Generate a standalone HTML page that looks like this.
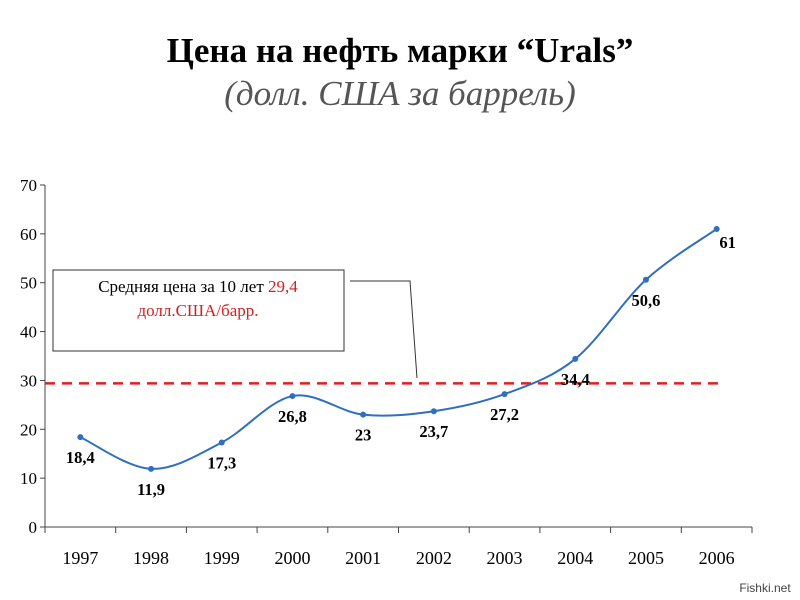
<!DOCTYPE html>
<html><head><meta charset="utf-8"><style>
body{margin:0;background:#fff;width:800px;height:600px;overflow:hidden}
svg{display:block}
</style></head><body>
<svg id="c" width="800" height="600" xmlns="http://www.w3.org/2000/svg">
<text x="400" y="62" text-anchor="middle" font-family="Liberation Serif, serif" font-weight="bold" font-size="35" fill="#000">Цена на нефть марки “Urals”</text>
<text x="400" y="105" text-anchor="middle" font-family="Liberation Serif, serif" font-style="italic" font-size="35" fill="#555">(долл. США за баррель)</text>
<g id="axes"></g>
<g id="marks"></g>
<rect x="53" y="270" width="291" height="81" fill="#fff" stroke="#333" stroke-width="1"/>
<text x="198" y="292" text-anchor="middle" font-family="Liberation Serif, serif" font-size="17"><tspan fill="#000">Средняя цена за 10 лет </tspan><tspan fill="#d42020">29,4</tspan></text>
<text x="198" y="316" text-anchor="middle" font-family="Liberation Serif, serif" font-size="17" fill="#d42020">долл.США/барр.</text>
<polyline points="350,281 410,281 417,378" fill="none" stroke="#333" stroke-width="1"/>
<text x="765" y="592" text-anchor="middle" font-family="Liberation Sans, sans-serif" font-size="12" fill="#444">Fishki.net</text>
</svg>
<script>
const categories=["1997","1998","1999","2000","2001","2002","2003","2004","2005","2006"];
const prices=[18.4,11.9,17.3,26.8,23,23.7,27.2,34.4,50.6,61];
const priceLabels=["18,4","11,9","17,3","26,8","23","23,7","27,2","34,4","50,6","61"];
const average=[29.4];
const yTicks=[0,10,20,30,40,50,60,70];
const NS="http://www.w3.org/2000/svg";
const x0=45,x1=752,y0=527,y70=185;
const bw=(x1-x0)/categories.length;
const X=i=>x0+bw*(i+0.5);
const Y=v=>y0-(v/70)*(y0-y70);
function mk(t,a,p){const e=document.createElementNS(NS,t);for(const k in a)e.setAttribute(k,a[k]);p.appendChild(e);return e;}
const ax=document.getElementById('axes'),mg=document.getElementById('marks');
let l=mk('line',{x1:x0,y1:Y(70),x2:x0,y2:y0,stroke:'#444'},ax);

l=mk('line',{x1:x0,y1:y0,x2:x1,y2:y0,stroke:'#444'},ax);

yTicks.forEach(v=>{
 mk('line',{x1:x0-5,y1:Y(v),x2:x0,y2:Y(v),stroke:'#444'},ax);
 const t=mk('text',{x:x0-8,y:Y(v)+6,'text-anchor':'end','font-family':'Liberation Serif, serif','font-size':17,fill:'#000'},ax);
 t.textContent=v;
 
 
});
for(let i=0;i<=categories.length;i++)mk('line',{x1:x0+bw*i,y1:y0,x2:x0+bw*i,y2:y0+6,stroke:'#444'},ax);
categories.forEach((c,i)=>{
 const t=mk('text',{x:X(i),y:y0+37,'text-anchor':'middle','font-family':'Liberation Serif, serif','font-size':18,fill:'#000'},ax);
 t.textContent=c;
 
 
});
const avg=mk('line',{x1:x0,y1:Y(average[0]),x2:x1-30,y2:Y(average[0]),stroke:'#e02020','stroke-width':2.5,'stroke-dasharray':'10,7'},mg);


const pts=prices.map((v,i)=>[X(i),Y(v)]);
let d=`M${pts[0][0]},${pts[0][1]}`;
for(let i=0;i<pts.length-1;i++){
 const p0=pts[Math.max(0,i-1)],p1=pts[i],p2=pts[i+1],p3=pts[Math.min(pts.length-1,i+2)];
 const c1=[p1[0]+(p2[0]-p0[0])/6,p1[1]+(p2[1]-p0[1])/6],c2=[p2[0]-(p3[0]-p1[0])/6,p2[1]-(p3[1]-p1[1])/6];
 d+=` C${c1[0]},${c1[1]} ${c2[0]},${c2[1]} ${p2[0]},${p2[1]}`;
}
const line=mk('path',{d:d,fill:'none',stroke:'#2f6fc0','stroke-width':2},mg);


pts.forEach((p,i)=>{
 const c=mk('circle',{cx:p[0],cy:p[1],r:3,fill:'#2f6fc0'},mg);
 
 
 const last=i===pts.length-1;
 const t=mk('text',{x:p[0]+(last?11:0),y:p[1]+(last?19:26),'text-anchor':'middle','font-family':'Liberation Serif, serif','font-size':16.5,'font-weight':'bold',fill:'#000'},mg);
 t.textContent=priceLabels[i];
 
 
});
</script>
</body></html>
